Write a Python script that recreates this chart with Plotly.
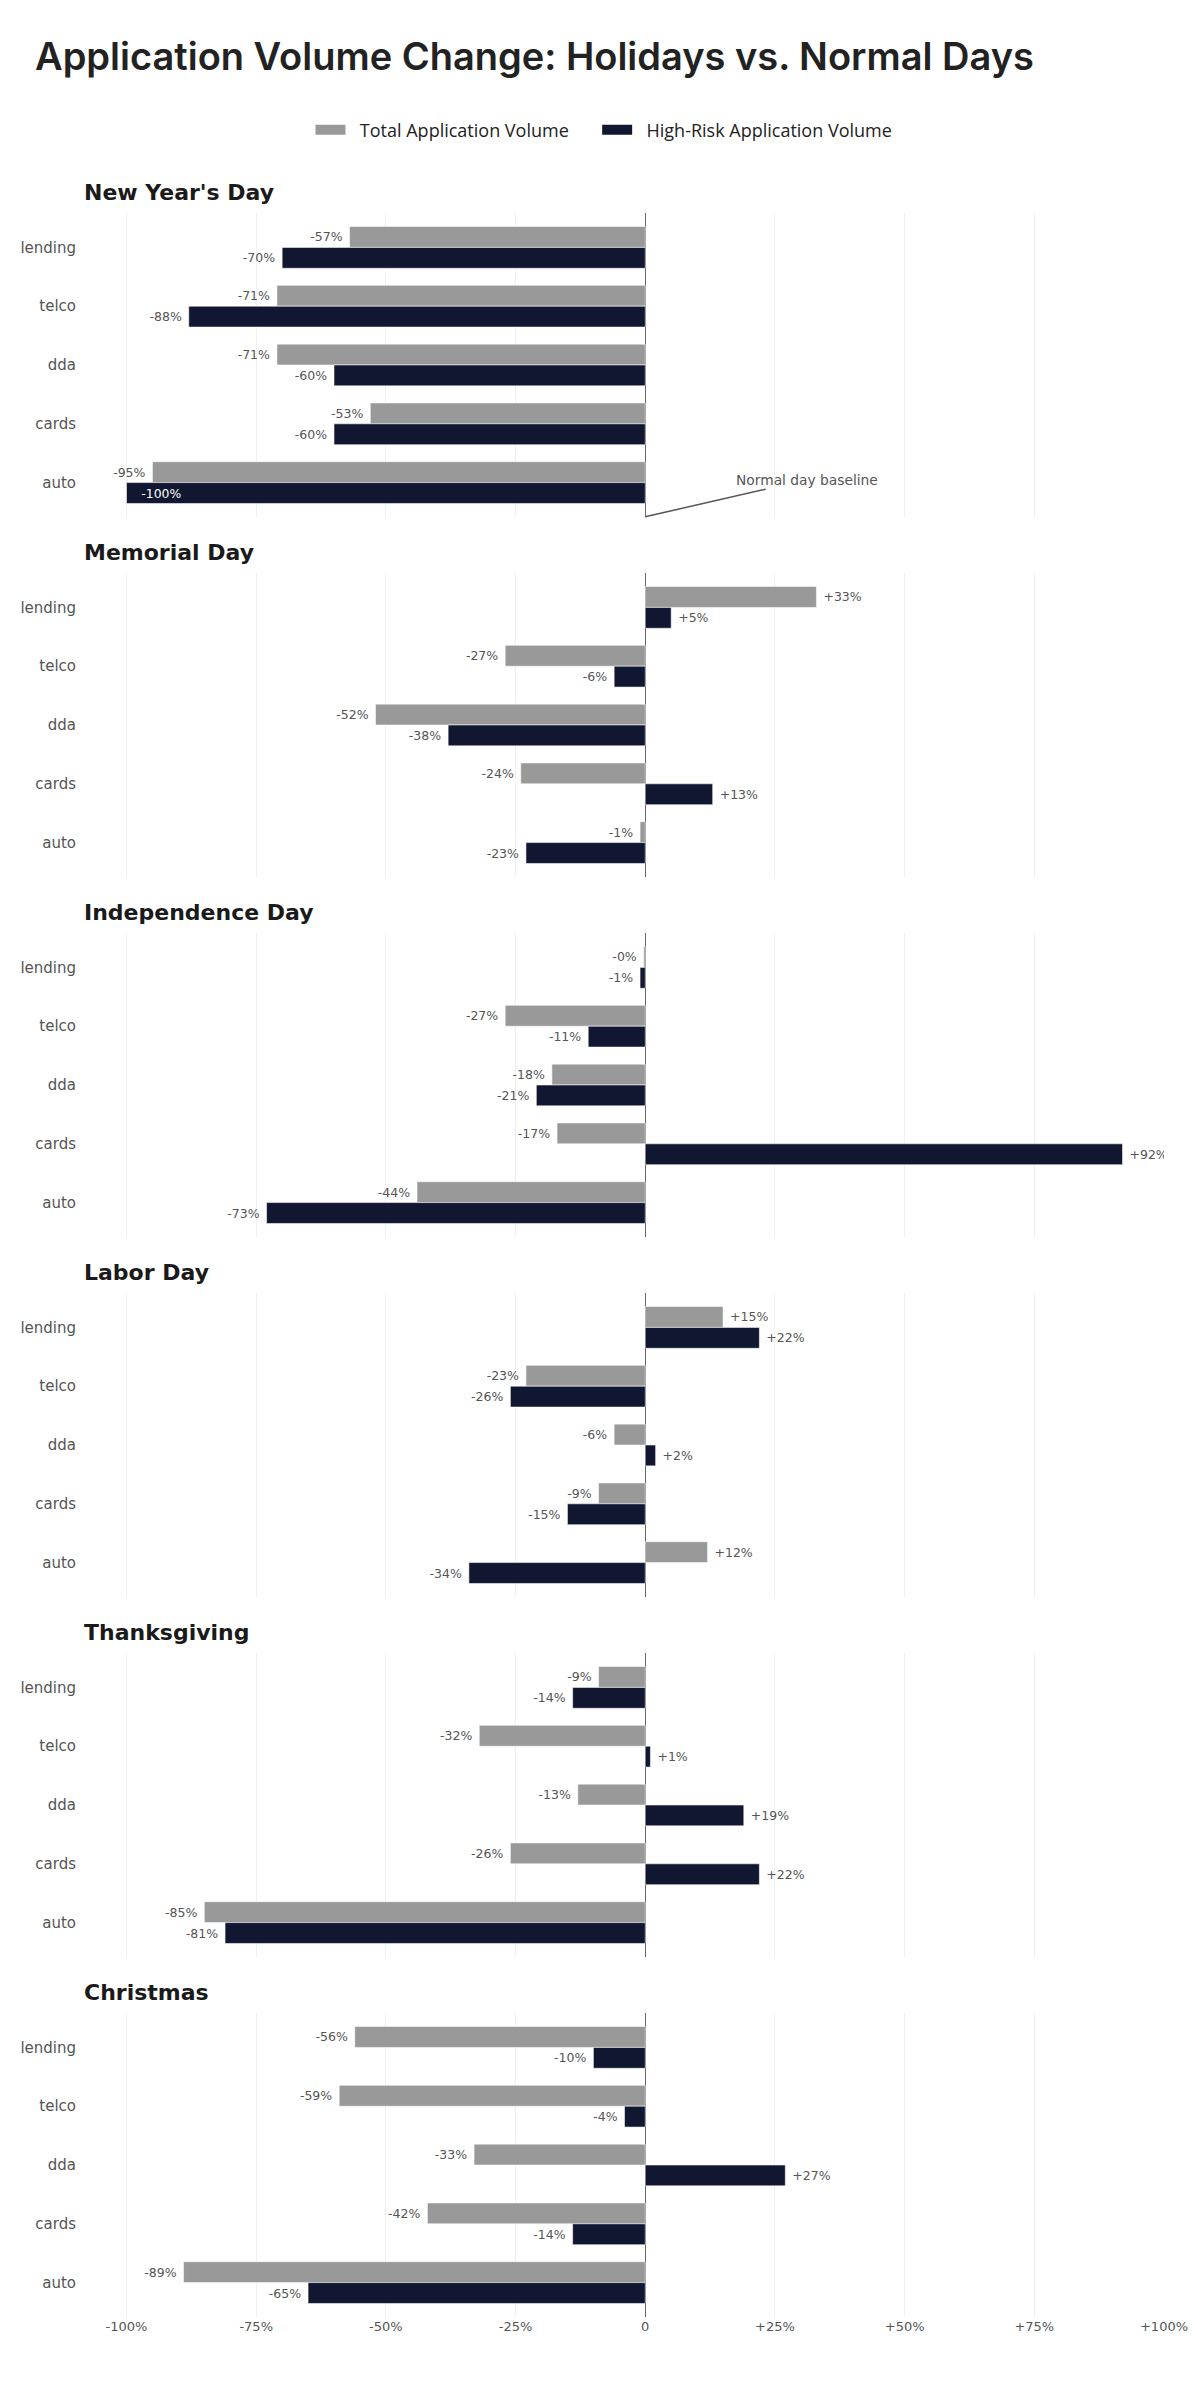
import plotly.graph_objects as go
from plotly.subplots import make_subplots

holidays = ["New Year's Day", "Memorial Day", "Independence Day", "Labor Day", "Thanksgiving", "Christmas"]
products = ["lending", "telco", "dda", "cards", "auto"]

total_volume = {
    "New Year's Day": [-57, -71, -71, -53, -95],
    "Memorial Day": [33, -27, -52, -24, -1],
    "Independence Day": [-0.3, -27, -18, -17, -44],
    "Labor Day": [15, -23, -6, -9, 12],
    "Thanksgiving": [-9, -32, -13, -26, -85],
    "Christmas": [-56, -59, -33, -42, -89],
}
high_risk_volume = {
    "New Year's Day": [-70, -88, -60, -60, -100],
    "Memorial Day": [5, -6, -38, 13, -23],
    "Independence Day": [-1, -11, -21, 92, -73],
    "Labor Day": [22, -26, 2, -15, -34],
    "Thanksgiving": [-14, 1, 19, 22, -81],
    "Christmas": [-10, -4, 27, -14, -65],
}

x_tick_vals = [-100, -75, -50, -25, 0, 25, 50, 75, 100]
x_tick_text = ["-100%", "-75%", "-50%", "-25%", "0", "+25%", "+50%", "+75%", "+100%"]

GRAY = "#999999"
NAVY = "#111731"
LABEL = "#555555"
NB = "\u00a0"

W, H = 1192, 2373  # page body adds an 8px offset in the browser window

n = len(holidays)
fig = make_subplots(rows=n, cols=1, shared_xaxes=True, vertical_spacing=56 / 2104)


def labels(vals):
    out, pos = [], []
    for v in vals:
        s = f"{v:+.0f}%"
        if abs(v) >= 97:
            out.append(NB * 3 + s)
            pos.append("inside")
        elif v < 0:
            out.append(s + NB)
            pos.append("outside")
        else:
            out.append(NB + s)
            pos.append("outside")
    return out, pos


for i, h in enumerate(holidays, start=1):
    for name, data, color in [("Total Application Volume", total_volume, GRAY),
                              ("High-Risk Application Volume", high_risk_volume, NAVY)]:
        txt, pos = labels(data[h])
        fig.add_trace(go.Bar(
            x=data[h], y=products, orientation="h", name=name,
            marker=dict(color=color, line=dict(color="rgba(255,255,255,0.55)", width=1)),
            text=txt, textposition=pos,
            insidetextanchor="end",
            insidetextfont=dict(color="white", size=12.5, family="DejaVu Sans"),
            outsidetextfont=dict(color=LABEL, size=12.5, family="DejaVu Sans"),
            cliponaxis=True,
            showlegend=False, hoverinfo="skip",
        ), row=i, col=1)
    fig.update_yaxes(row=i, col=1, type="category", categoryorder="array", categoryarray=products,
                     range=[4.585, -0.585], showgrid=False, zeroline=False, showline=False,
                     ticks="", ticklabelstandoff=8,
                     tickfont=dict(family="DejaVu Sans", size=15, color=LABEL))
    fig.update_xaxes(row=i, col=1, range=[-108, 100], tickvals=x_tick_vals, ticktext=x_tick_text,
                     showgrid=True, gridcolor="#f1f1f1", gridwidth=1,
                     zeroline=True, zerolinecolor="#666666", zerolinewidth=1,
                     showline=False, ticks="",
                     showticklabels=(i == n),
                     tickfont=dict(family="DejaVu Sans", size=13, color=LABEL))
    xd = "x domain" if i == 1 else f"x{i} domain"
    yd = "y domain" if i == 1 else f"y{i} domain"
    fig.add_annotation(text=f"<b>{h}</b>", xref=xd, yref=yd, x=0, y=1, xanchor="left",
                       yanchor="middle", yshift=21, xshift=-3, showarrow=False,
                       font=dict(family="DejaVu Sans", size=22, color="#1a1a1a"))

# legend entries
fig.add_trace(go.Scatter(x=[None], y=[None], mode="lines", name=NB * 2 + "Total Application Volume" + NB * 5,
                         line=dict(color=GRAY, width=10), showlegend=True, hoverinfo="skip"), row=1, col=1)
fig.add_trace(go.Scatter(x=[None], y=[None], mode="lines", name=NB * 2 + "High-Risk Application Volume",
                         line=dict(color=NAVY, width=10), showlegend=True, hoverinfo="skip"), row=1, col=1)

fig.add_annotation(text="Normal day baseline", xref="x", yref="y", x=0, y=4.58,
                   ax=162, ay=-37, axref="pixel", ayref="pixel",
                   showarrow=True, arrowhead=0, arrowwidth=1.5, arrowcolor="#555555",
                   font=dict(family="DejaVu Sans", size=13.8, color=LABEL))

fig.update_layout(
    width=W, height=H,
    margin=dict(l=62, r=35, t=205, b=64),
    paper_bgcolor="white", plot_bgcolor="white",
    barmode="group", bargap=0.29, bargroupgap=0,
    title=dict(text="Application Volume Change: Holidays vs. Normal Days",
               xref="container", x=27 / W, xanchor="left",
               yref="container", y=1 - 48.5 / H, yanchor="middle",
               font=dict(family="Inter", size=38, color="#222222", weight=600)),
    legend=dict(orientation="h", xref="container", yref="container",
                x=0.5, xanchor="center", y=1 - 122 / H, yanchor="middle",
                font=dict(family="Open Sans", size=18, color="#222222"),
                traceorder="normal"),
)

fig.write_html("out.html")
